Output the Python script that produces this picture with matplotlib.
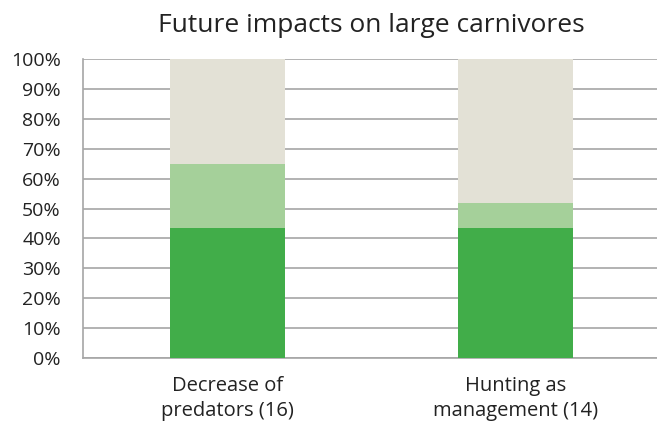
import matplotlib
matplotlib.use("Agg")
import matplotlib.pyplot as plt
import numpy as np

plt.rcParams['font.family'] = ['Open Sans', 'DejaVu Sans']

categories = ["Decrease of\npredators (16)", "Hunting as\nmanagement (14)"]
dark = [43.6, 43.6]
light = [21.4, 8.1]
rest = [35.0, 48.3]

fig = plt.figure(figsize=(6.57, 4.33), dpi=100)
ax = fig.add_axes([0.1263, 0.1732, 0.8737, 0.6905])

x = np.arange(len(categories))
w = 0.40
ax.bar(x, dark, w, color='#41AD49', zorder=3)
ax.bar(x, light, w, bottom=dark, color='#A5D09A', zorder=3)
ax.bar(x, rest, w, bottom=np.add(dark, light), color='#E3E1D6', zorder=3)

ax.set_xlim(-0.502, 1.491)
ax.set_ylim(0, 100)
ax.set_yticks(np.arange(0, 101, 10))
ax.set_yticklabels([f"{v}%" for v in range(0, 101, 10)])
ax.set_xticks(x)
ax.set_xticklabels(categories, linespacing=1.3)
ax.yaxis.grid(True, color='#A6A6A6', linewidth=1.2, zorder=0)
ax.set_axisbelow(True)
for s in ['top', 'right']:
    ax.spines[s].set_visible(False)
for s in ['left', 'bottom']:
    ax.spines[s].set_color('#A6A6A6')
    ax.spines[s].set_linewidth(1.2)
ax.tick_params(axis='y', length=0, pad=16, labelsize=14, labelcolor='#222222')
ax.tick_params(axis='x', length=0, pad=13, labelsize=14.5, labelcolor='#222222')

fig.text(0.565, 0.94, "Future impacts on large carnivores", ha='center', va='center',
         fontsize=19, color='#222222')

fig.savefig("out.png", dpi=100)
